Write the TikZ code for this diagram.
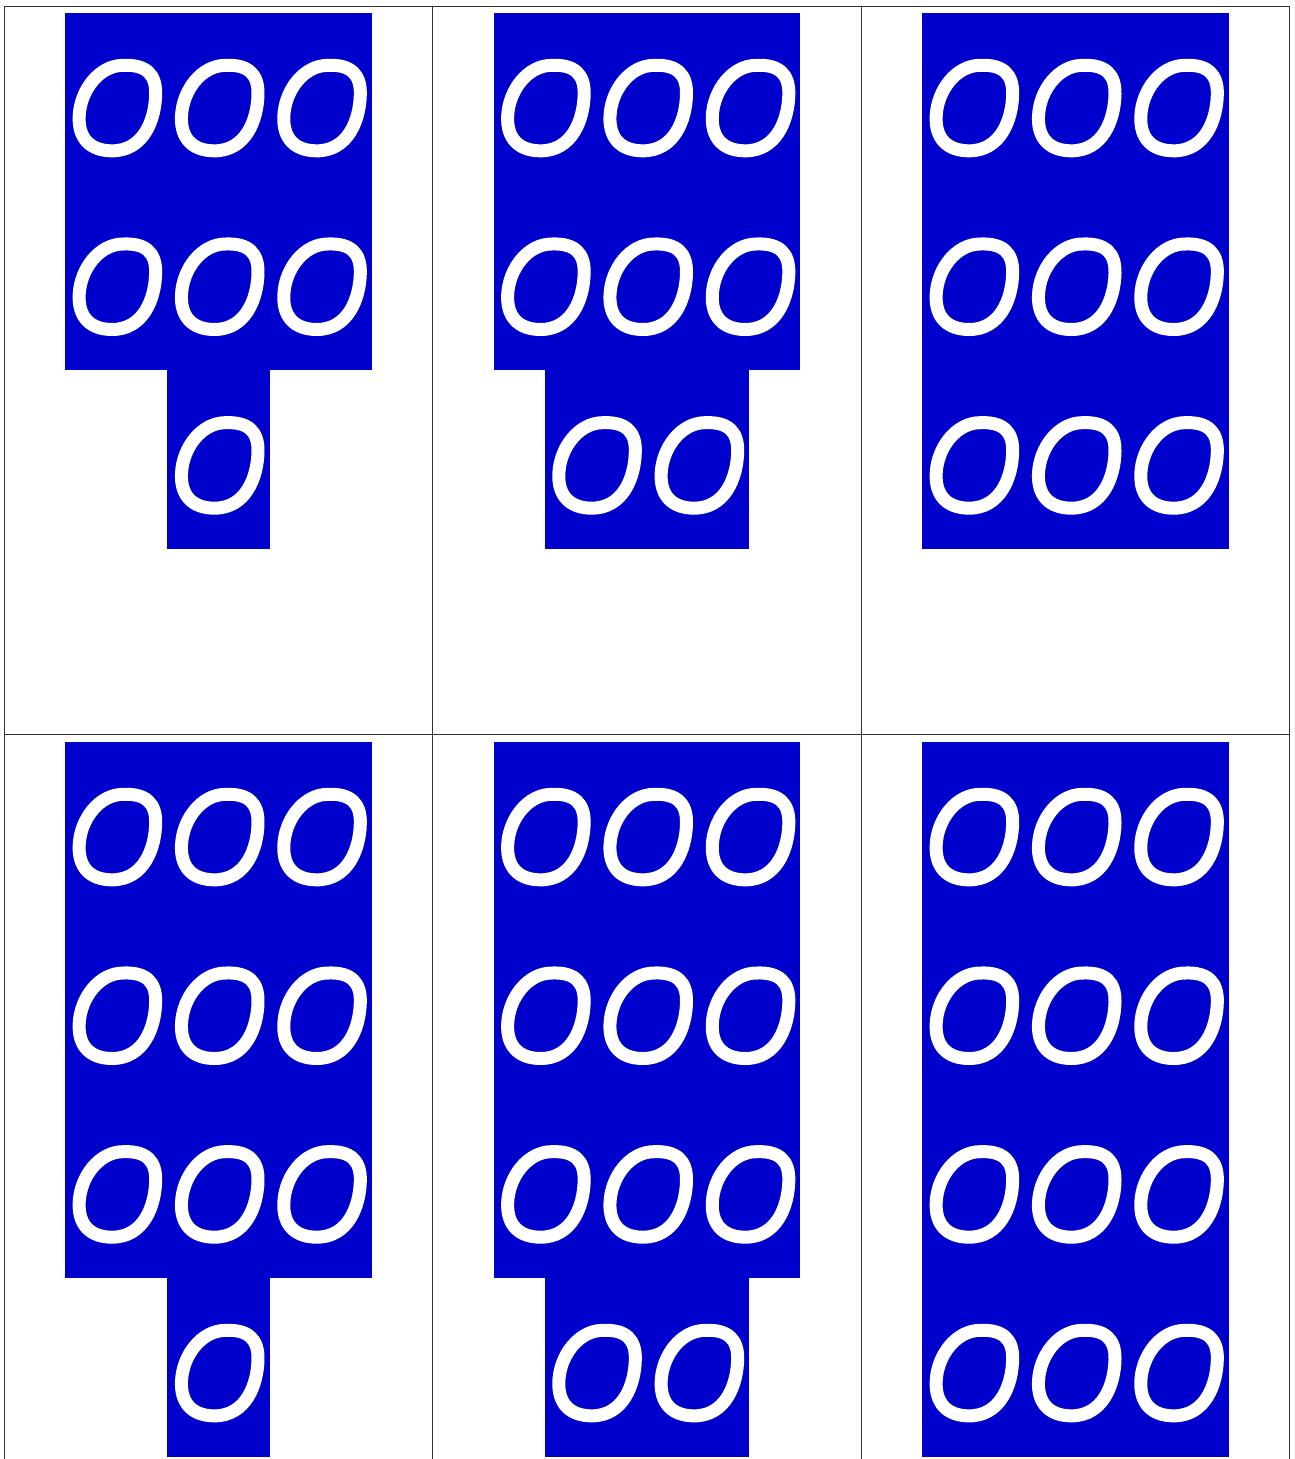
\documentclass[tikz,border=0pt]{standalone}
\definecolor{blk}{RGB}{0,0,204}
\def\cw{102.33}
\def\ch{178.67}
\tikzset{
  ring/.pic={\draw[white,line width=13pt,line join=round] (7,-37) .. controls (30,-38) and (40,-28) .. (39.5,-8) .. controls (39,18) and (27,48.5) .. (-4,48.5) .. controls (-26,48.5) and (-38,36) .. (-37,14) .. controls (-36,-12) and (-17,-37) .. (7,-37) -- cycle;},
  gridline/.style={line width=1pt,black!80}
}
\newcommand\oblock[4]{%
  \fill[blk] (#1,#2) rectangle ++({3*\cw},{#3*\ch});
  \foreach \r in {1,...,#3}{\foreach \c in {1,2,3}{\pic at ({#1+(\c-0.5)*\cw},{#2+(\r-0.5)*\ch}) {ring};}}
  \ifnum#4>0
    \fill[blk] ({#1+(3-#4)*\cw/2},{#2+#3*\ch-1}) rectangle ++({#4*\cw},{\ch+1});
    \foreach \i in {1,...,#4}{\pic at ({#1+(3-#4)*\cw/2+(\i-0.5)*\cw},{#2+(#3+0.5)*\ch}) {ring};}
  \fi
}
\begin{document}
\begin{tikzpicture}[x=1pt,y=-1pt]
\useasboundingbox (0,0) rectangle (1294,1459);
\fill[white] (0,0) rectangle (1294,1459);
\oblock{65}{13}{2}{1}
\oblock{493.5}{13}{2}{2}
\oblock{922}{13}{3}{0}
\oblock{65}{742}{3}{1}
\oblock{493.5}{742}{3}{2}
\oblock{922}{742}{4}{0}
\draw[gridline] (4,6) -- (1289.5,6);
\draw[gridline] (4,734) -- (1289.5,734);
\foreach \x in {4,432.5,861,1289.5}{\draw[gridline] (\x,6) -- (\x,1459);}
\end{tikzpicture}
\end{document}
